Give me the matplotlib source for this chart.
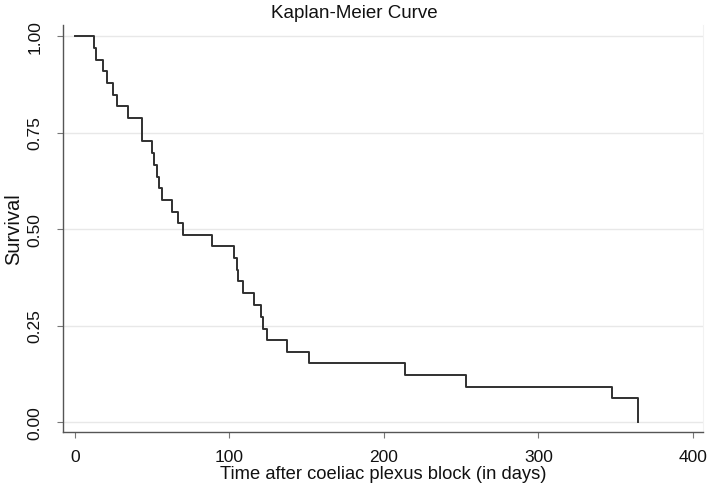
import matplotlib
matplotlib.use("Agg")
import matplotlib.pyplot as plt

# Kaplan-Meier step data (time in days, survival after the event)
times = [0, 12.5, 13.6, 18.3, 20.5, 24.8, 27.4, 34.5, 43.2, 50.0, 51.4, 52.9,
         54.4, 56.5, 62.6, 66.5, 69.7, 88.9, 103.1, 104.6, 105.7, 108.5,
         115.9, 120.2, 121.9, 124.1, 137.4, 151.7, 213.6, 253.0, 347.4, 364.6]
survival = [1.0, 0.970, 0.939, 0.909, 0.879, 0.848, 0.818, 0.788, 0.727, 0.697,
            0.667, 0.636, 0.606, 0.576, 0.545, 0.515, 0.485, 0.455, 0.424,
            0.394, 0.364, 0.333, 0.303, 0.273, 0.242, 0.212, 0.182, 0.152,
            0.121, 0.091, 0.061, 0.0]

x_ticks = [0, 100, 200, 300, 400]
y_ticks = [0.00, 0.25, 0.50, 0.75, 1.00]
y_tick_labels = ["0.00", "0.25", "0.50", "0.75", "1.00"]

title = "Kaplan-Meier Curve"
xlabel = "Time after coeliac plexus block (in days)"
ylabel = "Survival"

plt.rcParams['font.family'] = ['Liberation Sans', 'DejaVu Sans']

fig = plt.figure(figsize=(7.09, 4.85), dpi=100)
ax = fig.add_axes([63 / 709, 1 - 433 / 485, (703 - 63) / 709, (433 - 26) / 485])

ax.step(times, survival, where='post', color='#303030', linewidth=1.4)

ax.set_xlim(-7.77, 406.5)
ax.set_ylim(-0.0259, 1.0285)

ax.set_xticks(x_ticks)
ax.set_yticks(y_ticks)
ax.set_yticklabels(y_tick_labels, rotation=90, va='center')

ax.grid(axis='y', color='#e8e8e8', linewidth=1.0)
ax.set_axisbelow(True)

ax.spines['top'].set_visible(False)
ax.spines['right'].set_color('#f2f2f2')
ax.spines['left'].set_color('#555555')
ax.spines['bottom'].set_color('#555555')
ax.spines['left'].set_linewidth(1.0)
ax.spines['bottom'].set_linewidth(1.0)

ax.tick_params(axis='x', length=4, width=0.8, color='#777777', pad=8,
               labelsize=12.5, labelcolor='#111111')
ax.tick_params(axis='y', length=4, width=0.8, color='#777777', pad=11,
               labelsize=12.5, labelcolor='#111111')

ax.set_xlabel(xlabel, fontsize=13.2, color='#111111', labelpad=1)
ax.set_ylabel(ylabel, fontsize=14.5, color='#111111', labelpad=3)
fig.text(0.5, 1 - 13 / 485, title, ha='center', va='center', fontsize=13.5,
         color='#111111')

fig.savefig("out.png", dpi=100)
